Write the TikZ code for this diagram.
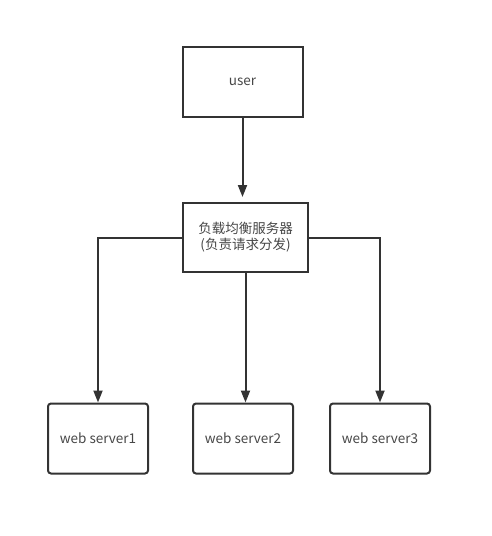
\documentclass[tikz,border=0pt]{standalone}
\usepackage{fontspec}
\newfontfamily\cjk{Noto Sans CJK SC}
\usetikzlibrary{arrows.meta}
\definecolor{linegray}{HTML}{333333}
\tikzset{
  box/.style={draw=linegray, line width=2pt, fill=white, align=center,
    font=\cjk\fontsize{13.5}{16}\selectfont, text=linegray!90},
  link/.style={draw=linegray, line width=2pt, -{Triangle[width=9pt,length=12pt]}}
}
\begin{document}
\begin{tikzpicture}[x=1pt,y=-1pt]
\useasboundingbox (0,0) rectangle (492,536);
% 用户
\node[box, minimum width=120pt, minimum height=70pt] (user) at (242.5,82) {user};

% 负载均衡
\node[box, minimum width=125pt, minimum height=69pt] (lb) at (245.5,237.5) {负载均衡服务器\\(负责请求分发)};

% web 服务器
\node[box, rounded corners=3pt, minimum width=100pt, minimum height=70pt] (s1) at (98,438.5) {web server1};
\node[box, rounded corners=3pt, minimum width=100pt, minimum height=70pt] (s2) at (243,438.5) {web server2};
\node[box, rounded corners=3pt, minimum width=100pt, minimum height=70pt] (s3) at (380,438.5) {web server3};

% ========== 连线 ==========
\draw[link, shorten >=5pt] (user.south) -- (user.south |- lb.north);
\draw[link] (lb.west) -| (s1.north);
\draw[link] (lb.south) -- (lb.south |- s2.north);
\draw[link] (lb.east) -| (s3.north);
\end{tikzpicture}
\end{document}
